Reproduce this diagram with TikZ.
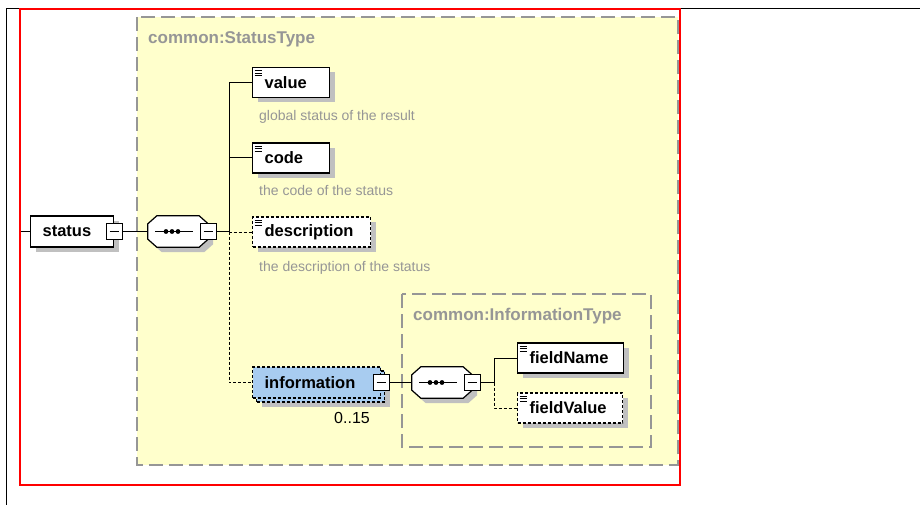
\documentclass[tikz,border=0pt]{standalone}
\usepackage{fontspec}
\setmainfont{Liberation Sans}
\usepackage{tikz}
\usetikzlibrary{shadows}

\definecolor{grpyellow}{RGB}{255,255,204}
\definecolor{grpgray}{RGB}{150,150,150}
\definecolor{notegray}{RGB}{150,150,150}
\definecolor{shadowgray}{RGB}{192,192,192}
\definecolor{infoblue}{RGB}{168,204,240}

\tikzset{
  elembase/.style={rectangle, draw, line width=1.2pt, fill=white, anchor=west,
    inner xsep=12pt, inner ysep=0pt, minimum height=30pt, align=left,
    font=\bfseries\fontsize{16.5}{18}\selectfont},
  boxshadow/.style={drop shadow={shadow xshift=#1, shadow yshift=-#1, fill=shadowgray, opacity=1}},
  leaf/.style={path picture={
    \foreach \i in {3pt,5.5pt,8pt}
      \draw[line width=0.8pt, solid] ([shift={(2pt,-\i)}]path picture bounding box.north west) -- ++(7pt,0);}},
  elem/.style={elembase, boxshadow=5pt, leaf},
  optelem/.style={elem, dash pattern=on 3pt off 2pt},
  seqbox/.style={rectangle, minimum width=60pt, minimum height=31pt, inner sep=0pt},
  minusbox/.style={rectangle, draw, line width=1pt, fill=white, minimum size=16pt, inner sep=0pt,
    path picture={\draw[line width=1.2pt] ([xshift=-4.5pt]path picture bounding box.center) -- ([xshift=4.5pt]path picture bounding box.center);}},
  conn/.style={line width=1pt},
  optconn/.style={conn, dash pattern=on 3pt off 2pt},
  note/.style={anchor=base west, inner sep=0pt, text=notegray, font=\fontsize{14}{16}\selectfont},
  grpbox/.style={draw=grpgray, line width=1.5pt, dash pattern=on 14pt off 6pt},
  grptitle/.style={anchor=base west, inner sep=0pt, text=grpgray, font=\bfseries\fontsize{17}{20}\selectfont}
}

% octagon of a sequence compositor, drawn round the node #1
\newcommand{\seqshape}[1]{%
  \fill[shadowgray, transform canvas={shift={(5pt,-5pt)}}]
    ([xshift=9pt]#1.north west) -- ([xshift=-9pt]#1.north east) -- ([yshift=-8pt]#1.north east)
    -- ([yshift=8pt]#1.south east) -- ([xshift=-9pt]#1.south east) -- ([xshift=9pt]#1.south west)
    -- ([yshift=8pt]#1.south west) -- ([yshift=-8pt]#1.north west) -- cycle;
  \draw[line width=1.2pt, fill=white]
    ([xshift=9pt]#1.north west) -- ([xshift=-9pt]#1.north east) -- ([yshift=-8pt]#1.north east)
    -- ([yshift=8pt]#1.south east) -- ([xshift=-9pt]#1.south east) -- ([xshift=9pt]#1.south west)
    -- ([yshift=8pt]#1.south west) -- ([yshift=-8pt]#1.north west) -- cycle;
  \draw[line width=1.2pt] ([xshift=-23pt]#1.center) -- ([xshift=15pt]#1.center);
  \foreach \d in {-12pt,-6pt,0pt}
    \fill ([xshift=\d]#1.center) circle (2.4pt);
}

\begin{document}
\begin{tikzpicture}[x=1pt, y=-1pt]
  \useasboundingbox (0,0) rectangle (920,505);
  \draw[line width=1pt] (6,505) -- (6,9) -- (920,9);

  \draw[grpbox, fill=grpyellow] (137,17) rectangle (678,465);
  \node[grptitle] (stTitle) at (148,44) {common:StatusType};
  \draw[grpbox] (402,294) rectangle (651,447);
  \node[grptitle] (itTitle) at (413,320) {common:InformationType};

  \node[elembase, boxshadow=5pt, text width=59pt, minimum height=31pt] (status) at (30,231.5) {status};
  \node[minusbox] (statusM) at (status.east) {};
  \node[seqbox] (seq1) at (178,231.5) {};
  \seqshape{seq1}
  \node[minusbox] (seq1M) at (seq1.east) {};
  \coordinate (j1) at (229,231.5);

  \node[elem, text width=53pt] (value) at (252,82.5) {value};
  \node[note] (valueNote) at (259,120.5) {global status of the result};
  \node[elem, text width=53pt] (code) at (252,158) {code};
  \node[note] (codeNote) at (259,196) {the code of the status};
  \node[optelem, text width=94pt] (descr) at (252,232) {description};
  \node[note] (descrNote) at (259,271) {the description of the status};

  \node[elembase, fill=infoblue, dash pattern=on 3pt off 2pt, boxshadow=9pt,
        general shadow={shadow xshift=4pt, shadow yshift=-4pt, fill=infoblue, draw, line width=1.2pt, dash pattern=on 3pt off 2pt},
        text width=104pt, minimum height=31pt] (info) at (252,382.5) {information};
  \node[minusbox] (infoM) at (info.east) {};
  \node[inner sep=0pt, font=\fontsize{16}{18}\selectfont] (infoCard) at (352,418) {0..15};

  \node[seqbox] (seq2) at (442,382.5) {};
  \seqshape{seq2}
  \node[minusbox] (seq2M) at (seq2.east) {};
  \coordinate (j2) at (494,382.5);
  \node[elem, text width=82pt] (fName) at (517,358) {fieldName};
  \node[optelem, text width=81pt] (fValue) at (517,408) {fieldValue};

  \coordinate (start) at (20,231.5);
  \draw[conn] (start) -- (status.west);
  \draw[conn] (statusM.east) -- (seq1.west);
  \draw[conn] (seq1M.east) -- (j1);
  \draw[conn] (j1) |- (value.west);
  \draw[conn] (j1) |- (code.west);
  \draw[optconn] (j1) |- (descr.west);
  \draw[optconn] (j1) |- (info.west);
  \draw[conn] (infoM.east) -- (seq2.west);
  \draw[conn] (seq2M.east) -- (j2);
  \draw[conn] (j2) |- (fName.west);
  \draw[optconn] (j2) |- (fValue.west);

  \draw[red, line width=1.5pt] (20,9) rectangle (680,485);
\end{tikzpicture}
\end{document}
